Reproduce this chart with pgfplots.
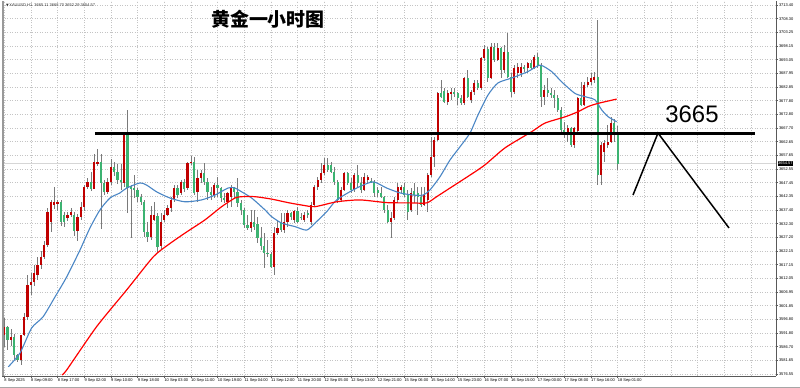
\documentclass[border=0pt]{standalone}
\usepackage{pgfplots}
\pgfplotsset{compat=1.18}
\usepackage{pgfplotstable}
\usepackage{fontspec}
\setmainfont{Liberation Sans}
\newfontfamily\cjk{Noto Sans CJK SC}
\newfontfamily\dejavu{DejaVu Sans}
\definecolor{upred}{HTML}{C00000}
\definecolor{dngreen}{HTML}{3CB371}
\definecolor{wick}{HTML}{7A7A7A}
\definecolor{mablue}{HTML}{4A86C5}
\definecolor{gridc}{HTML}{C4C4C4}
\definecolor{bidc}{HTML}{D6D6D6}

\pgfplotstableread{
i O H L C
0 3591.0 3597.3 3586.7 3594.1
1 3594.1 3594.3 3585.4 3589.1
2 3589.1 3593.4 3587.0 3590.3
3 3590.3 3591.5 3581.7 3583.6
4 3583.6 3584.0 3581.0 3581.7
5 3581.7 3591.0 3580.0 3591.0
6 3591.0 3599.0 3590.5 3597.8
7 3597.8 3613.3 3596.5 3609.5
8 3609.5 3614.0 3605.8 3610.7
9 3610.7 3616.9 3609.0 3614.0
10 3613.3 3620.0 3611.4 3616.9
11 3616.9 3622.1 3615.4 3619.9
12 3619.9 3626.0 3619.0 3624.4
13 3624.4 3638.0 3623.6 3636.7
14 3633.0 3641.2 3629.3 3640.3
15 3639.2 3646.0 3637.9 3640.5
16 3639.5 3641.2 3637.0 3640.5
17 3640.3 3641.1 3631.3 3633.0
18 3635.5 3636.6 3631.0 3633.0
19 3634.5 3636.8 3633.3 3635.5
20 3635.5 3638.0 3634.7 3636.7
21 3635.5 3636.5 3627.8 3629.4
22 3629.4 3636.0 3625.8 3634.8
23 3634.8 3640.3 3633.8 3638.5
24 3638.5 3646.8 3637.0 3646.0
25 3646.0 3649.3 3645.0 3647.8
26 3647.8 3651.6 3644.6 3645.3
27 3645.3 3658.0 3645.0 3655.3
28 3654.6 3660.1 3653.6 3655.3
29 3655.3 3658.0 3630.3 3647.3
30 3647.3 3648.5 3642.9 3644.0
31 3644.0 3649.3 3643.3 3647.7
32 3647.7 3656.4 3646.5 3653.5
33 3653.5 3655.2 3649.9 3651.6
34 3651.6 3654.3 3647.0 3648.5
35 3648.5 3654.6 3644.8 3647.6
36 3647.2 3665.5 3646.0 3665.2
37 3665.2 3674.4 3636.2 3645.5
38 3645.8 3646.6 3626.9 3645.0
39 3645.6 3650.5 3641.8 3644.8
40 3644.8 3645.4 3640.3 3642.2
41 3642.2 3643.3 3639.2 3640.3
42 3640.3 3641.1 3627.3 3629.2
43 3629.2 3632.9 3625.4 3627.3
44 3627.3 3639.0 3626.2 3635.5
45 3633.7 3640.3 3633.3 3635.5
46 3635.0 3636.2 3621.5 3623.6
47 3624.0 3636.1 3623.0 3633.0
48 3633.7 3637.4 3632.9 3635.5
49 3635.5 3639.2 3635.0 3638.1
50 3638.1 3642.3 3636.5 3641.1
51 3641.5 3646.5 3640.5 3645.5
52 3645.5 3646.5 3642.0 3643.0
53 3643.5 3648.5 3642.9 3647.9
54 3647.9 3648.8 3644.0 3645.0
55 3645.4 3655.3 3644.8 3654.7
56 3654.7 3657.4 3654.1 3655.3
57 3655.3 3657.1 3642.9 3643.5
58 3644.1 3652.2 3640.3 3649.1
59 3649.1 3652.2 3647.4 3651.1
60 3651.1 3654.7 3646.6 3647.8
61 3647.8 3649.1 3641.1 3644.1
62 3644.1 3646.0 3641.1 3642.9
63 3642.9 3647.3 3641.7 3646.6
64 3646.6 3649.7 3642.3 3645.5
65 3645.5 3646.0 3640.4 3641.8
66 3641.8 3643.6 3639.8 3641.1
67 3640.4 3644.1 3638.0 3643.7
68 3642.3 3646.6 3638.6 3646.0
69 3645.5 3646.0 3641.7 3644.1
70 3644.1 3649.1 3638.6 3639.8
71 3639.8 3641.1 3635.5 3637.4
72 3637.4 3638.0 3630.6 3631.8
73 3631.8 3635.5 3629.9 3630.7
74 3630.7 3637.4 3629.3 3633.0
75 3633.0 3637.4 3629.9 3631.2
76 3632.0 3634.9 3625.0 3627.0
77 3627.0 3631.2 3622.5 3624.0
78 3624.0 3628.7 3615.7 3621.5
79 3621.5 3626.2 3620.0 3621.0
80 3621.0 3621.9 3615.7 3616.3
81 3616.3 3631.2 3613.3 3628.7
82 3628.7 3633.7 3628.1 3630.7
83 3632.5 3636.1 3629.3 3629.9
84 3629.9 3636.1 3628.7 3633.0
85 3633.0 3637.4 3631.2 3636.1
86 3636.1 3636.7 3633.7 3634.9
87 3633.7 3637.4 3632.4 3637.0
88 3637.0 3638.6 3632.4 3633.0
89 3634.9 3636.1 3633.7 3634.3
90 3633.7 3636.7 3633.0 3635.5
91 3636.1 3637.4 3634.3 3635.5
92 3633.0 3640.4 3631.8 3639.2
93 3639.2 3646.6 3638.6 3645.9
94 3646.0 3649.7 3644.8 3648.5
95 3648.5 3654.7 3647.3 3651.1
96 3651.1 3656.5 3650.3 3654.1
97 3654.1 3656.5 3651.6 3652.2
98 3654.1 3655.3 3651.0 3651.6
99 3651.6 3653.4 3646.6 3647.8
100 3647.8 3648.5 3639.8 3641.1
101 3641.1 3646.0 3640.4 3644.8
102 3644.8 3651.6 3644.3 3651.0
103 3651.0 3651.6 3646.6 3647.4
104 3647.3 3649.1 3643.6 3644.8
105 3644.8 3651.0 3644.0 3650.3
106 3650.3 3654.1 3646.0 3647.4
107 3647.4 3649.7 3643.6 3644.8
108 3644.8 3651.0 3644.3 3649.7
109 3648.5 3650.5 3647.3 3649.7
110 3648.3 3649.1 3647.3 3647.9
111 3647.8 3648.5 3642.3 3643.6
112 3644.8 3646.0 3642.3 3643.6
113 3643.6 3646.0 3641.7 3642.3
114 3642.3 3642.6 3636.1 3637.4
115 3637.4 3639.2 3632.4 3633.0
116 3633.0 3636.7 3626.9 3634.3
117 3634.3 3642.3 3633.7 3641.1
118 3641.1 3647.3 3639.8 3646.0
119 3644.8 3646.6 3643.6 3646.0
120 3646.0 3647.3 3642.3 3642.9
121 3642.9 3644.8 3633.7 3636.7
122 3637.5 3645.4 3636.5 3643.6
123 3644.5 3647.3 3639.8 3642.9
124 3643.5 3646.0 3635.5 3642.3
125 3642.3 3646.0 3638.6 3639.2
126 3639.2 3646.0 3639.0 3642.9
127 3641.0 3651.0 3636.7 3650.3
128 3650.3 3664.5 3649.7 3657.1
129 3657.1 3664.5 3653.4 3663.3
130 3663.3 3681.2 3663.0 3680.6
131 3680.6 3685.6 3678.8 3679.4
132 3681.5 3682.5 3676.9 3677.5
133 3677.5 3681.9 3676.3 3680.6
134 3680.6 3682.5 3678.2 3681.2
135 3681.2 3682.5 3679.4 3680.6
136 3680.6 3681.2 3676.3 3678.8
137 3678.8 3680.0 3676.3 3676.9
138 3676.9 3686.8 3676.3 3686.2
139 3686.2 3689.3 3678.8 3679.4
140 3678.0 3681.9 3676.9 3681.1
141 3681.1 3685.6 3680.0 3684.5
142 3684.5 3685.6 3681.9 3682.6
143 3682.6 3694.2 3681.9 3693.7
144 3693.7 3698.6 3692.5 3697.0
145 3697.0 3698.0 3685.0 3686.5
146 3686.5 3699.2 3686.0 3697.9
147 3697.9 3699.2 3692.4 3693.0
148 3693.0 3699.2 3692.5 3697.4
149 3697.4 3698.0 3686.2 3689.3
150 3689.3 3698.6 3688.1 3695.9
151 3695.9 3702.9 3686.2 3686.7
152 3686.7 3688.1 3679.4 3681.2
153 3681.2 3691.1 3680.5 3689.9
154 3688.0 3691.8 3686.2 3690.5
155 3688.1 3691.8 3686.8 3690.5
156 3690.5 3691.1 3688.7 3689.9
157 3689.9 3692.4 3688.1 3691.8
158 3691.8 3693.0 3689.3 3689.9
159 3689.9 3694.9 3689.5 3694.2
160 3694.2 3695.5 3690.0 3691.1
161 3691.1 3691.8 3675.7 3679.4
162 3679.4 3683.7 3676.3 3681.9
163 3681.9 3686.2 3679.4 3680.6
164 3680.6 3682.5 3678.8 3680.0
165 3680.0 3681.9 3675.1 3678.8
166 3678.8 3680.0 3673.8 3674.5
167 3674.5 3675.7 3666.4 3667.0
168 3667.0 3670.1 3663.9 3665.8
169 3665.8 3668.9 3662.7 3667.6
170 3667.6 3668.3 3660.8 3661.5
171 3661.5 3668.3 3660.2 3667.6
172 3666.5 3679.4 3665.2 3678.8
173 3678.8 3684.9 3675.8 3676.3
174 3676.3 3684.9 3676.0 3683.7
175 3683.7 3686.8 3683.1 3684.9
176 3684.9 3688.1 3683.7 3686.5
177 3685.5 3688.7 3684.3 3686.8
178 3686.8 3707.8 3646.6 3650.3
179 3650.3 3662.7 3646.6 3661.5
180 3659.0 3663.3 3655.3 3662.1
181 3661.5 3668.9 3660.2 3662.7
182 3662.7 3671.9 3662.1 3669.5
183 3669.5 3671.3 3662.7 3665.2
184 3665.11 3668.70 3652.29 3654.57
}\ohlc

\pgfplotstableread{
i v
1.2 3579.2
4.7 3584.3
8.2 3593.6
11.6 3597.7
15.2 3605.1
18.7 3612.5
22.7 3622.5
25.7 3630.7
28.7 3637.4
31.7 3641.8
34.7 3643.7
36.7 3645.5
40.7 3647.4
42.7 3646.6
45.7 3644.1
49.7 3641.8
54.2 3640.4
59.2 3641.1
63.2 3642.9
67.1 3645.5
69.0 3645.6
71.2 3644.1
74.2 3641.8
78.2 3637.4
80.2 3634.9
83.2 3632.5
87.2 3631.2
90.7 3629.9
93.2 3632.5
96.7 3636.7
99.7 3641.1
105.7 3645.5
110.6 3647.8
114.7 3645.5
118.7 3643.7
122.6 3642.9
125.6 3642.9
127.7 3644.8
130.7 3649.7
133.7 3655.9
136.7 3660.8
139.7 3665.9
142.1 3672.6
145.1 3680.0
148.1 3684.5
152.2 3686.3
157.1 3688.7
160.7 3691.1
164.2 3688.7
167.2 3684.9
171.2 3680.6
174.2 3679.4
177.2 3678.2
179.2 3674.5
181.1 3672.0
183.7 3670.1
}\mab

\pgfplotstableread{
i v
17.3 3576.2
18.7 3578.0
27.7 3594.1
36.7 3607.7
44.7 3620.0
49.1 3624.4
54.2 3628.8
60.2 3633.7
65.2 3638.6
69.2 3641.8
71.2 3642.3
75.2 3642.3
80.2 3641.4
85.1 3640.1
89.2 3639.2
93.2 3638.6
99.7 3640.4
106.7 3641.1
114.7 3640.1
121.7 3640.0
126.7 3640.0
129.7 3642.3
133.7 3645.5
139.7 3650.3
144.2 3654.1
150.2 3660.4
158.2 3666.4
162.2 3669.6
168.2 3671.9
172.1 3673.8
175.1 3675.7
178.1 3676.9
183.7 3678.5
}\mar

\begin{document}
\begin{tikzpicture}
\path[use as bounding box] (0,0) rectangle (800bp,388bp);
\fill[white] (0,0) rectangle (800bp,388bp);
\draw[black!35, line width=0.8bp] (0,0.6bp) -- (800bp,0.6bp);
\begin{axis}[
  at={(2bp,12bp)}, anchor=south west,
  scale only axis, width=774bp, height=375bp,
  xmin=-0.69, xmax=231.5, ymin=3575.79, ymax=3714.88,
  axis x line=bottom, axis y line=right,
  axis line style={-, draw=black!65, line width=0.7bp},
  clip=false,
  tick align=outside, major tick length=2bp,
  tick style={black!65, line width=0.4bp},
  grid=major, grid style={gridc, line width=0.5bp, dash pattern=on 1bp off 1.5bp},
  xtick={0,8,...,184},
  xticklabels={8 Sep 2025, 8 Sep 09:00, 8 Sep 17:00, 9 Sep 02:00, 9 Sep 10:00, 9 Sep 18:00, 10 Sep 03:00, 10 Sep 11:00, 10 Sep 19:00, 11 Sep 04:00, 11 Sep 12:00, 11 Sep 20:00, 12 Sep 05:00, 12 Sep 13:00, 12 Sep 21:00, 15 Sep 06:00, 15 Sep 14:00, 15 Sep 23:00, 16 Sep 07:00, 16 Sep 15:00, 17 Sep 00:00, 17 Sep 08:00, 17 Sep 16:00, 18 Sep 01:00},
  xticklabel style={font=\fontsize{4}{5}\selectfont, anchor=north west, inner sep=0.6bp, xshift=-0.6bp},
  extra x ticks={192,200,208,216,224},
  extra x tick labels={},
  extra x tick style={major tick length=0pt},
  ytick={3713.400,3708.331,3703.262,3698.193,3693.124,3688.055,3682.986,3677.917,3672.848,3667.779,3662.710,3657.641,3652.572,3647.503,3642.434,3637.365,3632.296,3627.227,3622.158,3617.089,3612.020,3606.951,3601.882,3596.813,3591.744,3586.675,3581.606,3576.537},
  yticklabels={3713.40,3708.30,3703.25,3698.15,3693.05,3687.95,3682.85,3677.80,3672.80,3667.70,3662.65,3657.65,3652.55,3647.45,3642.35,3637.40,3632.30,3627.20,3622.15,3617.15,3612.05,3606.95,3601.85,3596.80,3591.80,3586.70,3581.65,3576.55},
  yticklabel style={font=\fontsize{4}{5}\selectfont, anchor=west, inner sep=0.8bp},
]
% bid line
\addplot[bidc, line width=1.4bp, forget plot] coordinates {(-0.69,3654.57) (231.5,3654.57)};
% wicks
\addplot[forget plot, draw=none, mark=none,
  error bars/.cd, y dir=both, y explicit, error mark=none,
  error bar style={draw=wick, line width=0.7bp}]
  table[x=i, y expr={(\thisrow{H}+\thisrow{L})/2}, y error expr={(\thisrow{H}-\thisrow{L})/2}]{\ohlc};
% up bodies (red)
\addplot[forget plot, draw=none, mark=none,
  error bars/.cd, y dir=both, y explicit, error mark=none,
  error bar style={draw=upred, line width=2.3bp}]
  table[x=i, y expr={\thisrow{C}>=\thisrow{O} ? (\thisrow{O}+\thisrow{C})/2 : nan}, y error expr={max(abs(\thisrow{C}-\thisrow{O})/2,0.2)}]{\ohlc};
% down bodies (green)
\addplot[forget plot, draw=none, mark=none,
  error bars/.cd, y dir=both, y explicit, error mark=none,
  error bar style={draw=dngreen, line width=2.3bp}]
  table[x=i, y expr={\thisrow{C}<\thisrow{O} ? (\thisrow{O}+\thisrow{C})/2 : nan}, y error expr={max(abs(\thisrow{C}-\thisrow{O})/2,0.2)}]{\ohlc};
% moving averages
\addplot[mablue, line width=1.1bp, smooth, tension=0.4] table[x=i, y=v]{\mab};
\addplot[red, line width=1.2bp, smooth, tension=0.4] table[x=i, y=v]{\mar};
% annotation lines
\addplot[black, line width=2.5bp] coordinates {(27.2,3665.8) (225.2,3665.8)};
\addplot[black, line width=1.5bp] coordinates {(188.6,3642.9) (196.1,3665.9) (217.4,3630.7)};
% left border
\draw[black!40, line width=1.6bp] (rel axis cs:0.0012,0) -- (rel axis cs:0.0012,1);
% texts
\node[font=\cjk\bfseries\fontsize{19}{19}\selectfont, text=black] at (axis cs:79.1,3708.2) {黄金一小时图};
\node[font=\fontsize{24}{24}\selectfont, text=black] at (axis cs:206.3,3673.0) {3665};
\node[anchor=north west, inner sep=0, font=\fontsize{4}{5}\selectfont, text=black!80] at (rel axis cs:0.005,0.993) {{\dejavu\fontsize{3.5}{4}\selectfont ▼}\,XAUUSD,H1\ \ 3665.11 3668.70 3652.29 3654.57};
\node[anchor=west, fill=black, text=white, inner sep=0.7bp, font=\fontsize{4}{5}\selectfont] at (axis cs:231.9,3654.57) {3654.57};
\end{axis}
\end{tikzpicture}
\end{document}
